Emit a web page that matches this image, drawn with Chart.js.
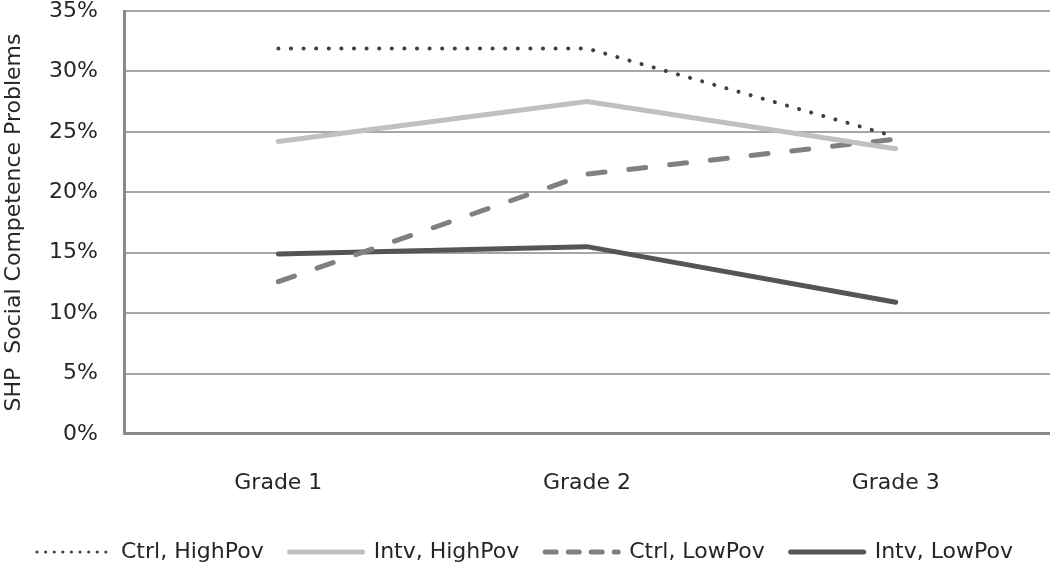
<!DOCTYPE html>
<html>
<head>
<meta charset="utf-8">
<script src="https://cdn.jsdelivr.net/npm/chart.js@4"></script>
<style>
    html, body { margin: 0; padding: 0; background: #fff; }
    #wrap { width: 1050px; height: 568px; }
</style>
</head>
<body>
<div id="wrap"><canvas id="socialChart"></canvas></div>
<script>
// grades on the x axis
const grades = ['Grade 1', 'Grade 2', 'Grade 3'];

// percent of students with social competence problems
const ctrlHighPov = [31.9, 31.9, 24.6];
const intvHighPov = [24.2, 27.5, 23.6];
const ctrlLowPov = [12.6, 21.5, 24.4];
const intvLowPov = [14.9, 15.5, 10.9];

const yTicks = [0, 5, 10, 15, 20, 25, 30, 35];

const fontFamily = '"DejaVu Sans", sans-serif';
const textColor = '#262626';

// legend lines keep the dataset dash, dotted one gets finer dots
const legendLabels = chart => {
    const items = Chart.defaults.plugins.legend.labels.generateLabels(chart);
    return items.map(item => {
        const ds = chart.data.datasets[item.datasetIndex];
        return Object.assign(item, {
            pointStyle: 'line',
            strokeStyle: ds.borderColor,
            lineWidth: ds.legendWidth || ds.borderWidth,
            lineDash: ds.legendDash || ds.borderDash || [],
            lineCap: ds.borderCapStyle,
            fontColor: textColor
        });
    });
};

const ctx = document.getElementById('socialChart').getContext('2d');
const socialChart = new Chart(ctx, {
    type: 'line',
    data: {
        labels: grades,
        datasets: [
            {
                label: 'Ctrl, HighPov',
                data: ctrlHighPov,
                borderColor: '#404040',
                borderWidth: 4,
                borderDash: [0.1, 12.5],
                legendDash: [0.1, 8.5],
                legendWidth: 3,
                borderCapStyle: 'round',
                pointRadius: 0
            },
            {
                label: 'Intv, HighPov',
                data: intvHighPov,
                borderColor: '#c0c0c0',
                borderWidth: 5,
                borderCapStyle: 'round',
                pointRadius: 0
            },
            {
                label: 'Ctrl, LowPov',
                data: ctrlLowPov,
                borderColor: '#808080',
                borderWidth: 5,
                borderDash: [17, 24],
                legendDash: [11, 12],
                borderCapStyle: 'round',
                pointRadius: 0
            },
            {
                label: 'Intv, LowPov',
                data: intvLowPov,
                borderColor: '#555555',
                borderWidth: 5,
                borderCapStyle: 'round',
                pointRadius: 0
            }
        ]
    },
    options: {
        responsive: true,
        maintainAspectRatio: false,
        animation: false,
        layout: { padding: { left: 0, right: 0, top: 0, bottom: -5 } },
        plugins: {
            tooltip: { enabled: false },
            legend: {
                position: 'bottom',
                labels: {
                    usePointStyle: true,
                    pointStyle: 'line',
                    pointStyleWidth: 73,
                    padding: 26,
                    color: textColor,
                    font: { family: fontFamily, size: 22 },
                    generateLabels: legendLabels
                }
            }
        },
        scales: {
            x: {
                offset: true,
                grid: {
                    drawOnChartArea: false,
                    drawTicks: true,
                    tickLength: 17,
                    tickColor: 'rgba(0,0,0,0)'
                },
                border: { display: true, color: '#8a8a8a', width: 3 },
                ticks: {
                    padding: 0,
                    color: textColor,
                    font: { family: fontFamily, size: 22, lineHeight: 2.91 }
                }
            },
            y: {
                min: 0,
                max: 35,
                afterBuildTicks: axis => {
                    axis.ticks = yTicks.map(v => ({ value: v }));
                },
                grid: {
                    color: '#a6a6a6',
                    lineWidth: 2,
                    drawTicks: true,
                    tickLength: 26,
                    tickColor: 'rgba(0,0,0,0)'
                },
                border: { display: true, color: '#8a8a8a', width: 3 },
                ticks: {
                    padding: 0,
                    color: textColor,
                    font: { family: fontFamily, size: 22, lineHeight: 1 },
                    callback: v => v + '%'
                },
                title: {
                    display: true,
                    text: 'SHP  Social Competence Problems',
                    color: textColor,
                    padding: { top: 1, bottom: 0 },
                    font: { family: fontFamily, size: 22 }
                },
                afterFit: axis => { axis.width = 124; }
            }
        }
    }
});
</script>
</body>
</html>
